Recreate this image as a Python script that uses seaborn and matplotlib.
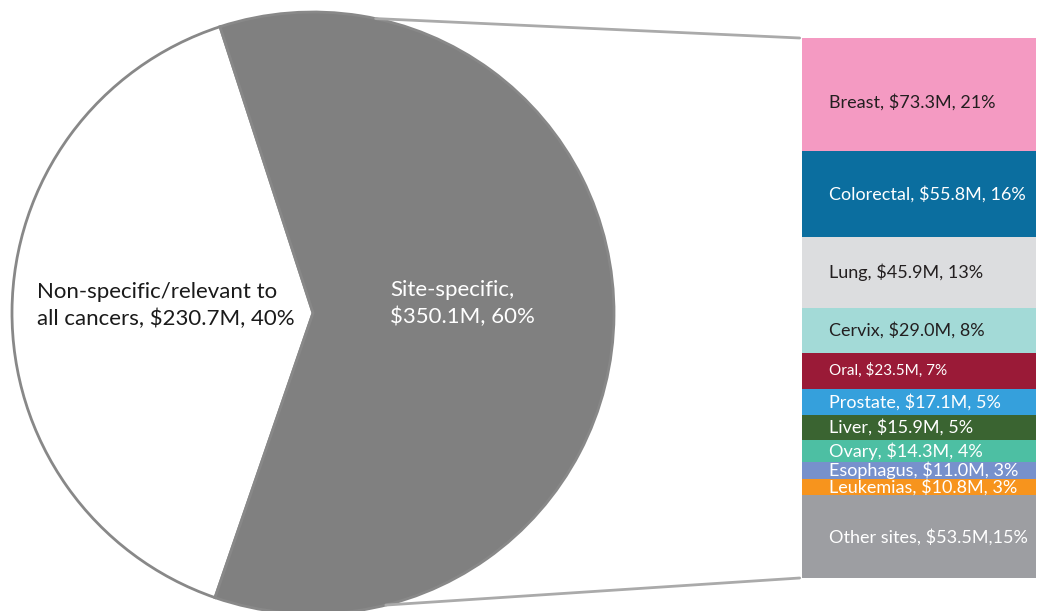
import matplotlib.pyplot as plt
import numpy as np
import seaborn as sns
from matplotlib.patches import ConnectionPatch

# pie: overall split
pie_labels = ["Non-specific/relevant to\nall cancers, \\$230.7M, 40%", "Site-specific,\n\\$350.1M, 60%"]
pie_values = [230.7, 350.1]
pie_colors = ["#ffffff", "#808080"]

# stacked bar: site-specific breakdown
sites = ["Breast", "Colorectal", "Lung", "Cervix", "Oral", "Prostate", "Liver",
         "Ovary", "Esophagus", "Leukemias", "Other sites"]
site_values = [73.3, 55.8, 45.9, 29.0, 23.5, 17.1, 15.9, 14.3, 11.0, 10.8, 53.5]
site_pcts = ["21%", "16%", "13%", "8%", "7%", "5%", "5%", "4%", "3%", "3%", "15%"]
site_colors = ["#f49ac2", "#0b6e9f", "#dcdddf", "#a3dad7", "#9a1a37", "#35a0dc",
               "#3a6431", "#4dbfa3", "#7791cc", "#f7941d", "#9d9ea2"]
dark_text = {"Breast", "Lung", "Cervix"}

sns.set_theme(style="white")
plt.rcParams["font.family"] = ["Lato", "DejaVu Sans"]

fig = plt.figure(figsize=(10.37, 6.11), dpi=100)

ax_pie = fig.add_axes([12 / 1037, -3 / 611, 602 / 1037, 602 / 611])
ax_pie.pie(pie_values, colors=pie_colors, startangle=108, counterclock=True, radius=1,
           wedgeprops=dict(edgecolor="#888888", linewidth=2))
ax_pie.set_xlim(-1, 1)
ax_pie.set_ylim(-1, 1)
ax_pie.set_aspect("equal")
ax_pie.axis("off")
ax_pie.text(-0.917, 0.025, pie_labels[0], ha="left", va="center", fontsize=16,
            color="#1a1a1a", linespacing=1.4)
ax_pie.text(0.256, 0.03, pie_labels[1], ha="left", va="center", fontsize=16,
            color="white", linespacing=1.4)

ax_bar = fig.add_axes([802 / 1037, 33 / 611, 234 / 1037, 540 / 611])
bottoms = np.concatenate([[0], np.cumsum(site_values)[:-1]])
ax_bar.bar([0.5] * len(sites), site_values, bottom=bottoms, width=1.0,
           color=site_colors, linewidth=0)
total = sum(site_values)
ax_bar.set_xlim(0, 1)
ax_bar.set_ylim(total, 0)
ax_bar.axis("off")
for name, val, pct, b in zip(sites, site_values, site_pcts, bottoms):
    sep = "," if name == "Other sites" else ", "
    label = f"{name}, \\${val:.1f}M{sep}{pct}"
    size = 11 if name == "Oral" else 13
    color = "#231f20" if name in dark_text else "white"
    y = b + val / 2 + (5 if name == "Breast" else 0)
    ax_bar.text(0.115, y, label, ha="left", va="center", fontsize=size, color=color)

# connector lines from pie to bar
for ang, ybar in [(78, 0), (-76, total)]:
    a = np.deg2rad(ang)
    con = ConnectionPatch(xyA=(np.cos(a), np.sin(a)), coordsA=ax_pie.transData,
                          xyB=(-0.01, ybar), coordsB=ax_bar.transData,
                          color="#aaaaaa", linewidth=2)
    fig.add_artist(con)

fig.savefig("out.png", dpi=100)
